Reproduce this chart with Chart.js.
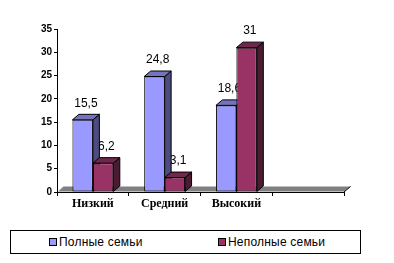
<!DOCTYPE html>
<html>
<head>
<meta charset="utf-8">
<script src="https://cdn.jsdelivr.net/npm/chart.js@4/dist/chart.umd.min.js"></script>
<style>
html,body{margin:0;padding:0;background:#fff;}
#wrap{position:relative;width:394px;height:263px;}
#c{position:absolute;left:0;top:0;}
#legend{position:absolute;left:10px;top:230px;width:349px;height:22px;border:1px solid #000;box-sizing:content-box;font:12px "Liberation Sans",Arial,sans-serif;color:#000;letter-spacing:0.2px;}
.item{position:absolute;top:4px;line-height:14px;white-space:nowrap;}
.sw{display:inline-block;width:6px;height:6px;border:1px solid #000;margin-right:2px;vertical-align:0px;}
</style>
</head>
<body>
<div id="wrap">
<canvas id="c" width="394" height="225"></canvas>
<div id="legend"></div>
</div>
<script>
const categories = ['Низкий', 'Средний', 'Высокий', ''];
const seriesNames = ['Полные семьи', 'Неполные семьи'];
const fullFamilies = [15.5, 24.8, 18.6, null];
const incompleteFamilies = [6.2, 3.1, 31, null];
const yMin = 0, yMax = 35, yStep = 5;

const frontColors = ['#9999FF', '#993366'];
const sideColors = ['#4C4C80', '#4D1A33'];
const topColors = ['#7373C0', '#73264D'];
const DX = 6.5, DY = 5.5;

const fmt = v => String(v).replace('.', ',');

const threeD = {
  id: 'threeD',
  beforeDatasetsDraw(chart) {
    const ctx = chart.ctx;
    const a = chart.chartArea;
    ctx.save();
    ctx.fillStyle = '#808080';
    ctx.beginPath();
    ctx.moveTo(a.left + 1, a.bottom - 0.5);
    ctx.lineTo(a.right, a.bottom - 0.5);
    ctx.lineTo(a.right + DX, a.bottom - DY);
    ctx.lineTo(a.left + DX, a.bottom - DY);
    ctx.closePath();
    ctx.fill();
    ctx.strokeStyle = '#000';
    ctx.lineWidth = 1;
    ctx.beginPath();
    ctx.moveTo(a.right, a.bottom);
    ctx.lineTo(a.right + DX, a.bottom - DY);
    ctx.stroke();
    ctx.fillStyle = '#000';
    ctx.font = '12px "Liberation Sans", Arial, sans-serif';
    ctx.textAlign = 'center';
    ctx.textBaseline = 'middle';
    chart.data.datasets.forEach((ds, i) => {
      const meta = chart.getDatasetMeta(i);
      meta.data.forEach((el, j) => {
        const v = ds.data[j];
        if (v === null || v === undefined) return;
        ctx.fillText(fmt(v), el.x + DX / 2, el.y - 16.5);
      });
    });
    chart.data.datasets.forEach((ds, i) => {
      const meta = chart.getDatasetMeta(i);
      meta.data.forEach((el, j) => {
        const v = ds.data[j];
        if (v === null || v === undefined) return;
        const l = el.x - el.width / 2, r = el.x + el.width / 2;
        const t = el.y, b = el.base;
        ctx.strokeStyle = '#000';
        ctx.lineWidth = 1;
        ctx.fillStyle = sideColors[i];
        ctx.beginPath();
        ctx.moveTo(r, t);
        ctx.lineTo(r + DX, t - DY);
        ctx.lineTo(r + DX, b - DY);
        ctx.lineTo(r, b);
        ctx.closePath();
        ctx.fill();
        ctx.stroke();
        ctx.fillStyle = topColors[i];
        ctx.beginPath();
        ctx.moveTo(l, t);
        ctx.lineTo(l + DX, t - DY);
        ctx.lineTo(r + DX, t - DY);
        ctx.lineTo(r, t);
        ctx.closePath();
        ctx.fill();
        ctx.stroke();
      });
    });
    ctx.restore();
  }
};

new Chart(document.getElementById('c'), {
  type: 'bar',
  data: {
    labels: categories,
    datasets: [
      { label: seriesNames[0], data: fullFamilies, backgroundColor: frontColors[0], borderColor: '#000', borderWidth: 1, borderSkipped: false, barPercentage: 1, categoryPercentage: 0.57 },
      { label: seriesNames[1], data: incompleteFamilies, backgroundColor: frontColors[1], borderColor: '#000', borderWidth: 1, borderSkipped: false, barPercentage: 1, categoryPercentage: 0.57 }
    ]
  },
  options: {
    responsive: false,
    animation: false,
    layout: { padding: { left: 0, right: 50, top: 29, bottom: 0 } },
    plugins: { legend: { display: false }, tooltip: { enabled: false } },
    scales: {
      x: {
        grid: { display: true, drawOnChartArea: false, color: '#000', tickLength: 4, offset: true },
        border: { display: true, color: '#000' },
        ticks: { color: '#000', padding: 1, font: { family: '"Liberation Serif", "Times New Roman", serif', size: 12, weight: 'bold' } },
        afterFit: s => { s.height = 33; }
      },
      y: {
        min: yMin, max: yMax,
        ticks: { stepSize: yStep, color: '#000', padding: 2, font: { family: '"Liberation Sans", Arial, sans-serif', size: 10, weight: 'bold' } },
        grid: { display: true, drawOnChartArea: false, color: '#000', tickLength: 3 },
        border: { display: true, color: '#000' },
        afterFit: s => { s.width = 57; }
      }
    }
  },
  plugins: [threeD]
});

const legend = document.getElementById('legend');
const legendX = [38, 207];
seriesNames.forEach((name, i) => {
  const d = document.createElement('div');
  d.className = 'item';
  d.style.left = legendX[i] + 'px';
  const sw = document.createElement('span');
  sw.className = 'sw';
  sw.style.background = frontColors[i];
  d.appendChild(sw);
  d.appendChild(document.createTextNode(name));
  legend.appendChild(d);
});
</script>
</body>
</html>
